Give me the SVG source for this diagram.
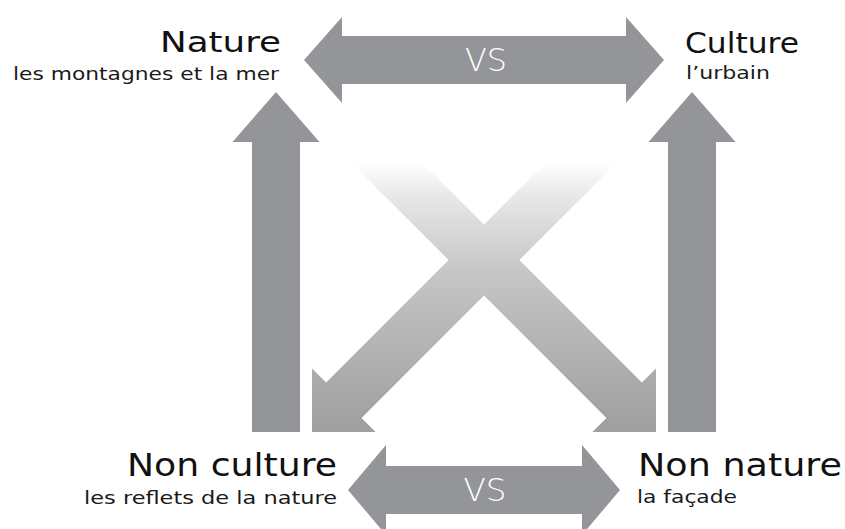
<svg xmlns="http://www.w3.org/2000/svg" width="845" height="529" viewBox="0 0 845 529">
  <defs>
    <linearGradient id="xfade" gradientUnits="userSpaceOnUse" x1="0" y1="163" x2="0" y2="432">
      <stop offset="0" stop-color="#ffffff"/>
      <stop offset="0.12" stop-color="#e8e8e8"/>
      <stop offset="0.4" stop-color="#c6c6c6"/>
      <stop offset="1" stop-color="#9d9e9f"/>
    </linearGradient>
  </defs>
  <style>
    .arrow { fill: #939598; }
    .x { fill: url(#xfade); }
    .title { font-family: "DejaVu Sans", "Noto Sans", sans-serif; fill: #111111; }
    .sub { font-family: "DejaVu Sans", "Noto Sans", sans-serif; fill: #1a1a1a; }
    .vs { font-family: "DejaVu Sans", "Noto Sans", sans-serif; font-weight: 200; fill: #ffffff; font-size: 32px; }
  </style>
  <rect width="845" height="529" fill="#ffffff"/>

  <g id="connectors">
    <!-- top double arrow -->
    <polygon class="arrow" points="304,60 342,17 342,36 626,36 626,17 664,60 626,103 626,84 342,84 342,103"/>
    <text class="vs" x="486" y="71" text-anchor="middle" textLength="42" lengthAdjust="spacingAndGlyphs">VS</text>
    <!-- bottom double arrow -->
    <polygon class="arrow" points="348,490 386,445 386,466 582,466 582,445 620,490 582,535 582,514 386,514 386,535"/>
    <text class="vs" x="485" y="501" text-anchor="middle" textLength="43" lengthAdjust="spacingAndGlyphs">VS</text>
    <!-- left vertical arrow (up) -->
    <polygon class="arrow" points="276,92 319.5,142 300,142 300,432 252,432 252,142 232.5,142"/>
    <!-- right vertical arrow (up) -->
    <polygon class="arrow" points="692,92 735.5,142 716,142 716,432 668,432 668,142 648.5,142"/>
    <!-- X diagonal arrows -->
    <polygon class="x" points="351.6,163 422.4,163 641.9,382.5 656,368.4 656,432 592.4,432 606.5,417.9"/>
    <polygon class="x" points="616.4,163 545.6,163 326.1,382.5 312,368.4 312,432 375.6,432 361.5,417.9"/>
  </g>

  <g id="nature">
    <text class="title" x="281" y="52" font-size="29" text-anchor="end" textLength="121" lengthAdjust="spacingAndGlyphs">Nature</text>
    <text class="sub" x="279" y="80" font-size="17" text-anchor="end" textLength="266" lengthAdjust="spacingAndGlyphs">les montagnes et la mer</text>
  </g>
  <g id="culture">
    <text class="title" x="685" y="53" font-size="29" textLength="114" lengthAdjust="spacingAndGlyphs">Culture</text>
    <text class="sub" x="686" y="79" font-size="17" textLength="84" lengthAdjust="spacingAndGlyphs">l’urbain</text>
  </g>
  <g id="non-culture">
    <text class="title" x="337" y="476" font-size="32" text-anchor="end" textLength="210" lengthAdjust="spacingAndGlyphs">Non culture</text>
    <text class="sub" x="337" y="504" font-size="17" text-anchor="end" textLength="253" lengthAdjust="spacingAndGlyphs">les reflets de la nature</text>
  </g>
  <g id="non-nature">
    <text class="title" x="638" y="476" font-size="32" textLength="204" lengthAdjust="spacingAndGlyphs">Non nature</text>
    <text class="sub" x="637" y="503" font-size="17" textLength="100" lengthAdjust="spacingAndGlyphs">la façade</text>
  </g>
</svg>
